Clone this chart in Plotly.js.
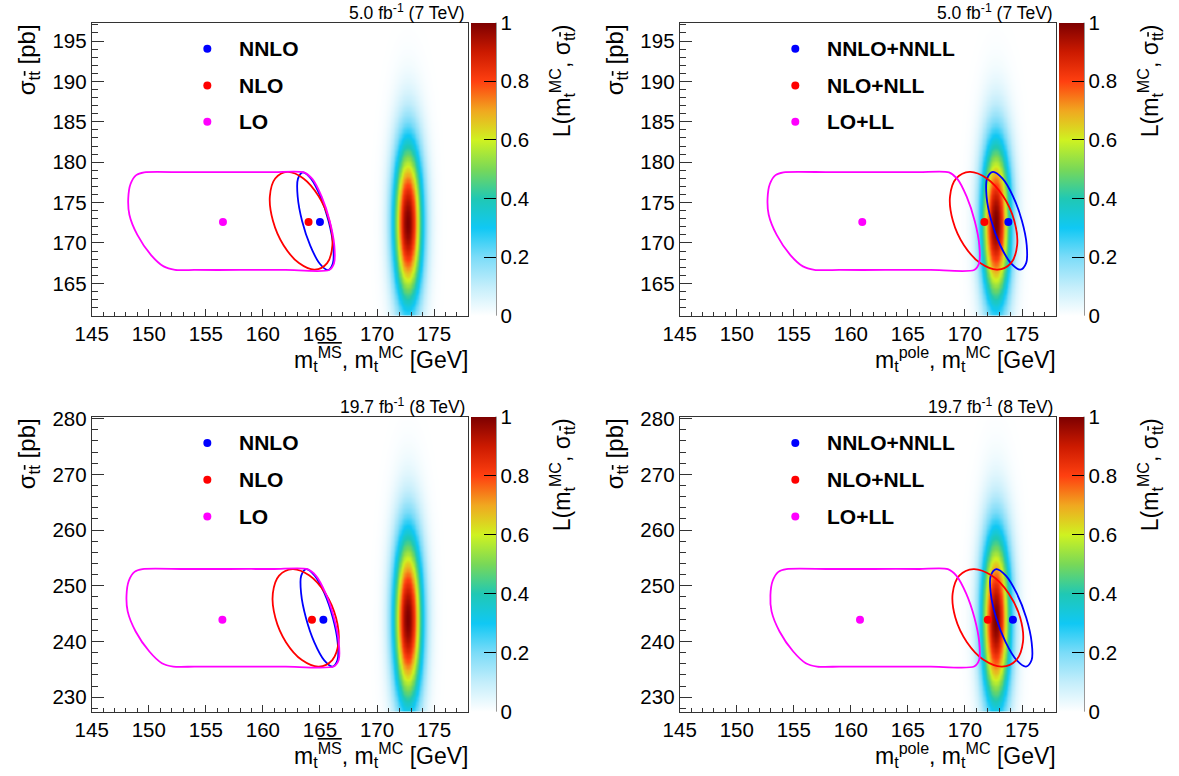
<!DOCTYPE html>
<html><head><meta charset="utf-8">
<script src="https://cdn.plot.ly/plotly-3.0.1.min.js"></script>
<style>html,body{margin:0;padding:0;background:#fff;} #chart{width:1179px;height:776px;}</style>
</head><body><div id="chart"></div>
<script>
// ---------- data ----------
const labelsMS = ['NNLO', 'NLO', 'LO'];
const labelsPole = ['NNLO+NNLL', 'NLO+NLL', 'LO+LL'];
const lumiLabels = ['5.0 fb<sup>-1</sup> (7 TeV)', '5.0 fb<sup>-1</sup> (7 TeV)', '19.7 fb<sup>-1</sup> (8 TeV)', '19.7 fb<sup>-1</sup> (8 TeV)'];

// best-fit points (NNLO, NLO, LO) per panel
const tlPointM = [165.0, 164.0, 156.5];
const tlPointS = [172.6, 172.6, 172.6];
const trPointM = [173.8, 171.7, 161.0];
const trPointS = [172.6, 172.6, 172.6];
const blPointM = [165.3, 164.3, 156.45];
const blPointS = [243.9, 243.9, 243.9];
const brPointM = [174.2, 172.0, 160.8];
const brPointS = [243.9, 243.9, 243.9];

// contours
const tlNnloM = [165.76,165.05,164.23,163.50,163.07,163.05,163.44,164.15,164.97,165.70,166.13,166.16];
const tlNnloS = [172.70,175.73,177.94,178.75,177.94,175.73,172.70,169.68,167.46,166.65,167.46,169.68];
const tlNloM = [165.82,164.89,163.55,162.15,161.08,160.61,160.88,161.81,163.16,164.55,165.63,166.09];
const tlNloS = [172.75,175.78,177.99,178.80,177.99,175.78,172.75,169.72,167.51,166.70,167.51,169.72];
const tlLoM = [149.6,153.0,157.0,161.0,163.6,164.33,165.15,165.86,166.26,166.23,165.8,162.0,158.0,154.0,152.3,151.3,150.2,149.0,148.3,148.2,148.4,148.9];
const tlLoS = [178.75,178.77,178.78,178.78,178.75,177.94,175.73,172.7,169.68,167.46,166.65,166.66,166.66,166.66,166.68,167.1,168.5,171.0,173.5,175.5,177.3,178.4];

const trNnloM = [174.99,174.21,173.28,172.45,171.94,171.89,172.31,173.09,174.02,174.85,175.36,175.41];
const trNnloS = [172.75,175.78,177.99,178.80,177.99,175.78,172.75,169.72,167.51,166.70,167.51,169.72];
const trNloM = [174.32,173.35,171.92,170.41,169.23,168.69,168.94,169.91,171.34,172.85,174.03,174.57];
const trNloS = [172.75,175.78,177.99,178.80,177.99,175.78,172.75,169.72,167.51,166.70,167.51,169.72];
const trLoM = [154.1,158.0,162.0,166.0,168.6,169.33,170.15,170.86,171.26,171.23,170.8,167.0,163.0,159.0,156.8,155.8,154.7,153.5,152.8,152.7,152.9,153.4];
const trLoS = [178.75,178.77,178.78,178.78,178.75,177.94,175.73,172.7,169.68,167.46,166.65,166.66,166.66,166.66,166.68,167.1,168.5,171.0,173.5,175.5,177.3,178.4];

const blNnloM = [166.13,165.40,164.54,163.80,163.36,163.35,163.77,164.50,165.36,166.10,166.54,166.55];
const blNnloS = [244.25,248.63,251.83,253.00,251.83,248.63,244.25,239.88,236.67,235.50,236.67,239.88];
const blNloM = [166.41,165.48,164.08,162.60,161.42,160.87,161.09,162.02,163.42,164.90,166.08,166.63];
const blNloS = [244.25,248.63,251.83,253.00,251.83,248.63,244.25,239.88,236.67,235.50,236.67,239.88];
const blLoM = [149.45,153.0,157.0,161.0,163.9,164.64,165.50,166.23,166.65,166.64,166.2,162.0,158.0,154.0,152.15,151.15,150.05,148.85,148.15,148.05,148.25,148.75];
const blLoS = [253.0,253.02,253.02,253.02,253.0,251.83,248.63,244.25,239.88,236.67,235.5,235.48,235.48,235.48,235.5,236.1,238.2,241.8,245.4,248.3,250.9,252.5];

const brNnloM = [175.37,174.54,173.58,172.75,172.26,172.26,172.73,173.56,174.52,175.35,175.84,175.84];
const brNnloS = [244.25,248.63,251.83,253.00,251.83,248.63,244.25,239.88,236.67,235.50,236.67,239.88];
const brNloM = [174.84,173.83,172.34,170.75,169.50,168.92,169.16,170.17,171.66,173.25,174.50,175.08];
const brNloS = [244.25,248.63,251.83,253.00,251.83,248.63,244.25,239.88,236.67,235.50,236.67,239.88];
const brLoM = [154.35,158.0,162.0,166.0,168.5,169.24,170.10,170.83,171.25,171.24,170.8,167.0,163.0,159.0,157.05,156.05,154.95,153.75,153.05,152.95,153.15,153.65];
const brLoS = [253.0,253.02,253.02,253.02,253.0,251.83,248.63,244.25,239.88,236.67,235.5,235.48,235.48,235.48,235.5,236.1,238.2,241.8,245.4,248.3,250.9,252.5];

// likelihood L(m_MC, sigma) parameters
const likCenterM = [172.7, 172.7, 172.7, 172.7];
const likCenterS = [172.5, 172.5, 244.0, 244.0];
const likWidthM = [0.88, 0.88, 0.88, 0.88];
const likWidthS = [7.0, 7.0, 10.8, 10.8];

const colorbarTicks = [0, 0.2, 0.4, 0.6, 0.8, 1];

// ---------- build ----------
const FONT = 'Liberation Sans, Arial, Helvetica, sans-serif';
const COLORS = ['#0000ff', '#ff0000', '#ff00ff'];
const cscale = [[0,'#ffffff'],[0.1,'#c4eefb'],[0.2,'#7cdcf8'],[0.3,'#10c8f4'],[0.4,'#20c8b4'],[0.5,'#78d858'],[0.6,'#cff221'],[0.7,'#f0a820'],[0.8,'#ff4010'],[0.9,'#cc1a00'],[1,'#7d0000']];
const TICKSIZE = 20.5;

const panels = [
  {xa:'x', ya:'y', pm:tlPointM, ps:tlPointS, c:[[tlNnloM,tlNnloS],[tlNloM,tlNloS],[tlLoM,tlLoS]], labels:labelsMS, yr:[161,197.27], ymaj:5, ymin:1, dom:[[0.0778,0.3972],[0.5932,0.9707]], pole:false},
  {xa:'x2', ya:'y2', pm:trPointM, ps:trPointS, c:[[trNnloM,trNnloS],[trNloM,trNloS],[trLoM,trLoS]], labels:labelsPole, yr:[161,197.27], ymaj:5, ymin:1, dom:[[0.5765,0.8959],[0.5932,0.9707]], pole:true},
  {xa:'x3', ya:'y3', pm:blPointM, ps:blPointS, c:[[blNnloM,blNnloS],[blNloM,blNloS],[blLoM,blLoS]], labels:labelsMS, yr:[227.4,280.36], ymaj:10, ymin:2, dom:[[0.0778,0.3972],[0.0829,0.4630]], pole:false},
  {xa:'x4', ya:'y4', pm:brPointM, ps:brPointS, c:[[brNnloM,brNnloS],[brNloM,brNloS],[brLoM,brLoS]], labels:labelsPole, yr:[227.4,280.36], ymaj:10, ymin:2, dom:[[0.5765,0.8959],[0.0829,0.4630]], pole:true}
];

const traces = [];
const layout = {
  width:1179, height:776, margin:{l:0,r:0,t:0,b:0},
  paper_bgcolor:'#ffffff', plot_bgcolor:'#ffffff', showlegend:false,
  font:{family:FONT, color:'#000'},
  annotations:[], shapes:[]
};

panels.forEach((p, i) => {
  // likelihood grid
  const gm = [], gs = [], z = [];
  for (let k = 0; k <= 200; k++) gm.push(167.7 + k * 0.05);
  const sLo = p.yr[0], sHi = p.yr[1];
  for (let k = 0; k <= 240; k++) gs.push(sLo + (sHi - sLo) * k / 240);
  for (const s of gs) {
    const row = [];
    for (const m of gm) {
      const dm = (m - likCenterM[i]) / likWidthM[i];
      const ds = (s - likCenterS[i]) / likWidthS[i];
      row.push(Math.exp(-0.5 * (dm * dm + ds * ds)));
    }
    z.push(row);
  }
  const cbX = (i % 2 === 0 ? 471 : 1059) / 1179;
  const cbY = (p.dom[1][0] + p.dom[1][1]) / 2;
  const lenPx = (p.dom[1][1] - p.dom[1][0]) * 776;
  traces.push({
    type:'heatmap', x:gm, y:gs, z:z, xaxis:p.xa, yaxis:p.ya, zmin:0, zmax:1, zsmooth:'best',
    colorscale:cscale, hoverinfo:'skip',
    colorbar:{x:cbX, xanchor:'left', xref:'paper', y:cbY, yanchor:'middle', yref:'paper',
      len:lenPx, lenmode:'pixels', thickness:25, thicknessmode:'pixels', outlinewidth:0,
      xpad:0, ypad:0, ticks:'inside', ticklen:12, tickwidth:1, tickcolor:'#000',
      tickvals:colorbarTicks, ticktext:colorbarTicks.map(String), tickfont:{size:TICKSIZE, family:FONT, color:'#000'}}
  });
  // contours
  p.c.forEach((cc, j) => {
    traces.push({type:'scatter', mode:'lines', x:cc[0].concat([cc[0][0]]), y:cc[1].concat([cc[1][0]]),
      xaxis:p.xa, yaxis:p.ya, line:{color:COLORS[j], width:1.8, shape:'spline', smoothing:j===2?0.7:1}, hoverinfo:'skip'});
  });
  // best-fit points
  traces.push({type:'scatter', mode:'markers', x:p.pm, y:p.ps, xaxis:p.xa, yaxis:p.ya,
    marker:{color:COLORS, size:8}, hoverinfo:'skip'});

  const n = i + 1;
  const xk = n === 1 ? 'xaxis' : 'xaxis' + n;
  const yk = n === 1 ? 'yaxis' : 'yaxis' + n;
  const axCommon = {showline:true, mirror:true, linecolor:'#333', linewidth:1, showgrid:false, zeroline:false,
    ticks:'inside', tickcolor:'#333', tickwidth:1, tickfont:{size:TICKSIZE, family:FONT, color:'#000'}};
  layout[xk] = Object.assign({}, axCommon, {domain:p.dom[0], range:[145,178], anchor:p.ya, tick0:145, dtick:5, ticklen:7,
    minor:{dtick:1, ticklen:3.5, ticks:'inside', tickcolor:'#333', tickwidth:1}});
  layout[yk] = Object.assign({}, axCommon, {domain:p.dom[1], range:p.yr, anchor:p.xa, tick0:0, dtick:p.ymaj, ticklen:12,
    minor:{dtick:p.ymin, ticklen:6, ticks:'inside', tickcolor:'#333', tickwidth:1}});

  const xd = p.xa + ' domain', yd = p.ya + ' domain';
  // luminosity label
  layout.annotations.push({xref:xd, yref:yd, x:1, y:1, xanchor:'right', yanchor:'bottom', xshift:-1, yshift:-2,
    text:lumiLabels[i], showarrow:false, font:{size:17.5, family:FONT, color:'#000'}});
  // x-axis title
  const massLabel = p.pole ? 'm<sub>t</sub><sup>pole</sup>' : 'm<sub>t</sub><sup><span style="text-decoration:overline">MS</span></sup>';
  layout.annotations.push({xref:xd, yref:yd, x:1, y:0, xanchor:'right', yanchor:'middle', yshift:-43, xshift:2,
    text:massLabel + ', m<sub>t</sub><sup>MC</sup> [GeV]', showarrow:false, font:{size:23, family:FONT, color:'#000'}});
  // y-axis title
  const yTitleX = (i % 2 === 0 ? 28 : 616) / 1179;
  layout.annotations.push({xref:'paper', yref:yd, x:yTitleX, y:1, xanchor:'center', yanchor:'top', textangle:-90,
    text:'σ<sub>t<span style="text-decoration:overline">t</span></sub> [pb]', showarrow:false, font:{size:24, family:FONT, color:'#000'}});
  // colorbar title
  const zTitleX = (i % 2 === 0 ? 562 : 1150) / 1179;
  layout.annotations.push({xref:'paper', yref:yd, x:zTitleX, y:1, xanchor:'center', yanchor:'top', textangle:-90,
    text:'L(m<sub>t</sub><sup>MC</sup>, σ<sub>t<span style="text-decoration:overline">t</span></sub>)', showarrow:false, font:{size:23, family:FONT, color:'#000'}});
  // colorbar axis line
  const cbRight = (i % 2 === 0 ? 496 : 1084) / 1179;
  layout.shapes.push({type:'line', xref:'paper', yref:yd, x0:cbRight, x1:cbRight, y0:0, y1:1, line:{color:'#333', width:1}});
  // legend
  const ly = [0.911, 0.786, 0.662];
  p.labels.forEach((lab, j) => {
    layout.shapes.push({type:'circle', xref:xd, yref:yd, xsizemode:'pixel', ysizemode:'pixel', xanchor:0.307, yanchor:ly[j],
      x0:-4, x1:4, y0:-4, y1:4, fillcolor:COLORS[j], line:{width:0}});
    layout.annotations.push({xref:xd, yref:yd, x:0.385, y:ly[j], xanchor:'left', yanchor:'middle',
      text:'<b>' + lab + '</b>', showarrow:false, font:{size:21, family:FONT, color:'#000'}});
  });
});

Plotly.newPlot('chart', traces, layout, {staticPlot:true, displayModeBar:false});
</script></body></html>
